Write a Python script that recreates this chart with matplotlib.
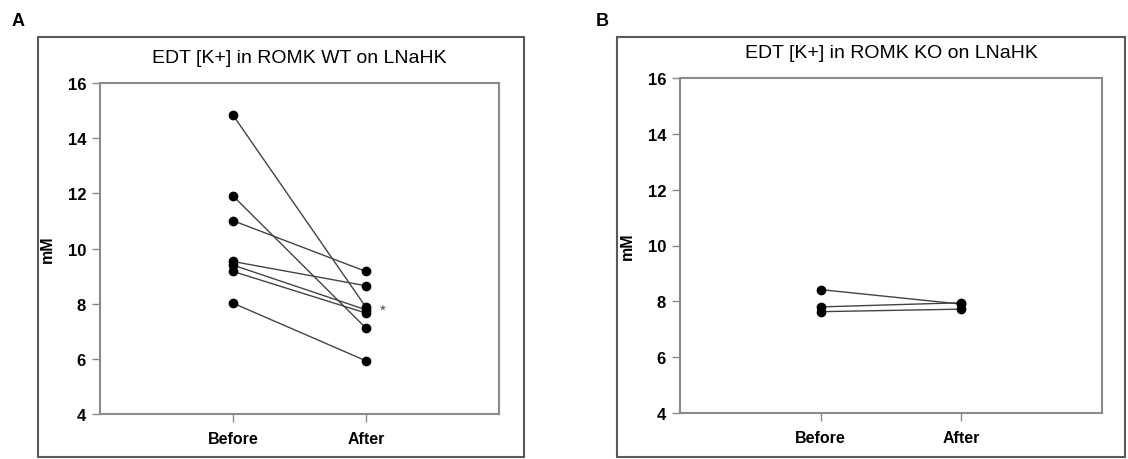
import matplotlib
matplotlib.use("Agg")
import matplotlib.pyplot as plt
from matplotlib.patches import Rectangle

plt.rcParams['font.family'] = ['Liberation Sans', 'DejaVu Sans']

# ---- data ----
categories = ["Before", "After"]
wt_before = [14.84, 11.91, 11.01, 9.53, 9.40, 9.17, 8.02]
wt_after = [7.88, 7.12, 9.17, 8.65, 7.78, 7.66, 5.93]
ko_before = [8.42, 7.80, 7.63]
ko_after = [7.90, 7.95, 7.72]
y_ticks = [4, 6, 8, 10, 12, 14, 16]
title_a = "EDT [K+] in ROMK WT on LNaHK"
title_b = "EDT [K+] in ROMK KO on LNaHK"

W, H = 1128, 460
fig = plt.figure(figsize=(W / 100, H / 100), dpi=100)

def px_rect(x0, y0, x1, y1):
    return [x0 / W, 1 - y1 / H, (x1 - x0) / W, (y1 - y0) / H]

# outer frames
for (x0, y0, x1, y1) in [(38, 38, 524, 458), (617, 38, 1125, 458)]:
    r = px_rect(x0, y0, x1, y1)
    fig.patches.append(Rectangle((r[0], r[1]), r[2], r[3], transform=fig.transFigure,
                                 fill=False, edgecolor='#5a5a5a', linewidth=1.5))

spine_col = '#8a8a8a'
line_col = '#444444'

def make_panel(rect, before, after, title, star=False):
    ax = fig.add_axes(px_rect(*rect))
    xs = [1, 2]
    for b, a in zip(before, after):
        ax.plot(xs, [b, a], color=line_col, linewidth=1.0, zorder=2)
    ax.plot([1] * len(before), before, 'o', color='black', markersize=6, zorder=3)
    ax.plot([2] * len(after), after, 'o', color='black', markersize=6, zorder=3)
    ax.set_xlim(0, 3)
    ax.set_ylim(4, 16)
    ax.set_yticks(y_ticks)
    ax.set_xticks(xs)
    ax.set_xticklabels(categories, fontweight='bold', fontsize=11.5)
    for lab in ax.get_yticklabels():
        lab.set_fontweight('bold')
        lab.set_fontsize(12)
    for s in ax.spines.values():
        s.set_color(spine_col)
        s.set_linewidth(1.5)
    ax.tick_params(axis='both', direction='out', length=6, width=1.0, color=spine_col,
                   labelcolor='black')
    ax.tick_params(axis='y', pad=4)
    ax.tick_params(axis='x', pad=6)
    ax.set_ylabel("mM", fontweight='bold', fontsize=11.5, labelpad=9)
    ax.set_title(title, fontsize=14, pad=15)
    if star:
        ax.text(2.13, 7.78, "*", fontsize=11, color='#444444', ha='center', va='center')
    return ax

axA = make_panel((100, 84, 498.7, 415), wt_before, wt_after, title_a, star=True)
axB = make_panel((680, 79, 1102, 414), ko_before, ko_after, title_b)

fig.text(18 / W, 1 - 21 / H, "A", fontsize=13, fontweight='bold', ha='center', va='center')
fig.text(602 / W, 1 - 21 / H, "B", fontsize=13, fontweight='bold', ha='center', va='center')

fig.savefig("out.png", dpi=100)
